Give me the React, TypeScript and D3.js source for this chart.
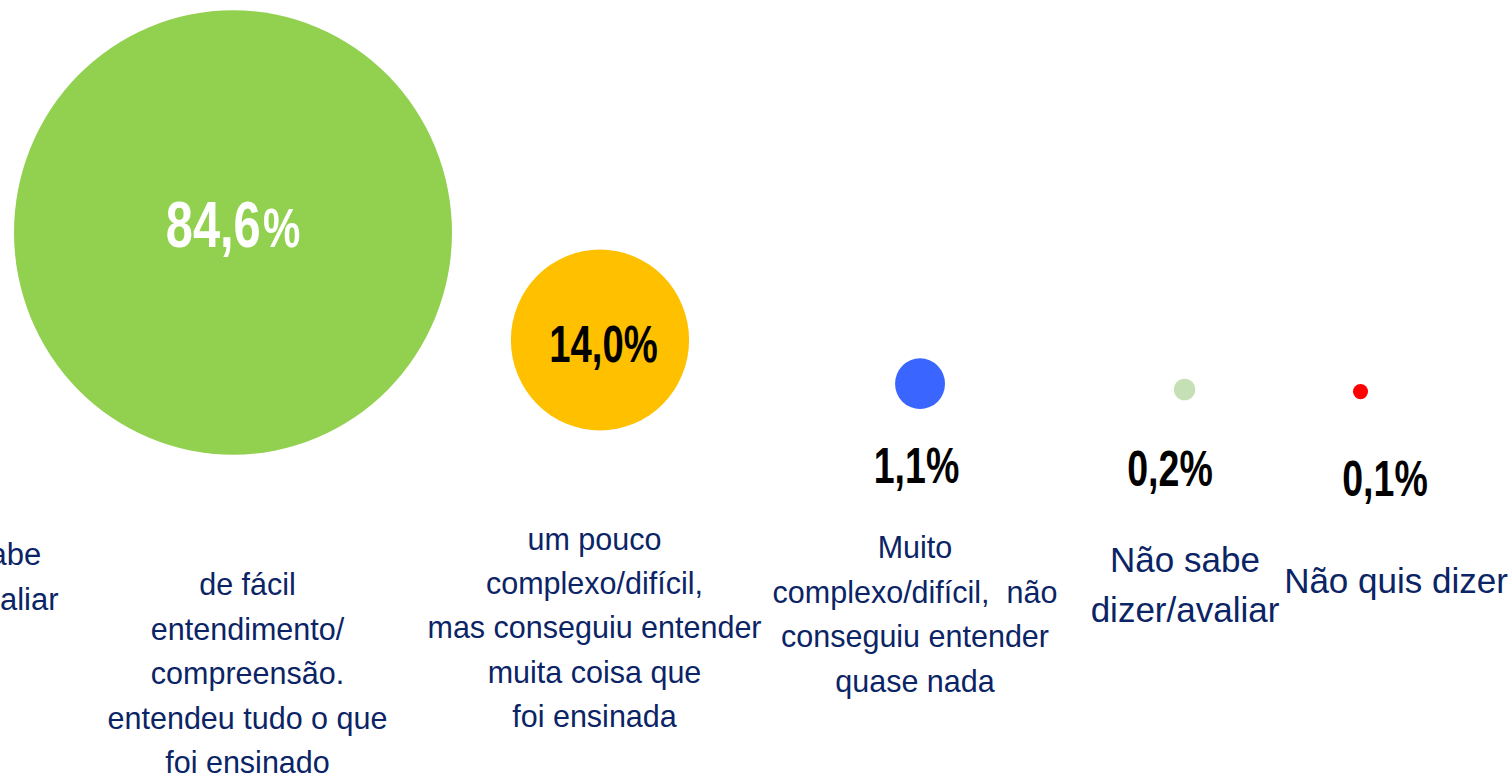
import React from "react";
import * as d3 from "d3";

// ---- data ----
const categories = [
  "de fácil entendimento/ compreensão. entendeu tudo o que foi ensinado",
  "um pouco complexo/difícil, mas conseguiu entender muita coisa que foi ensinada",
  "Muito complexo/difícil,  não conseguiu entender quase nada",
  "Não sabe dizer/avaliar",
  "Não quis dizer",
];
const categoryLines = [
  ["de fácil", "entendimento/", "compreensão.", "entendeu tudo o que", "foi ensinado"],
  ["um pouco", "complexo/difícil,", "mas conseguiu entender", "muita coisa que", "foi ensinada"],
  ["Muito", "complexo/difícil,  não", "conseguiu entender", "quase nada"],
  ["Não sabe", "dizer/avaliar"],
  ["Não quis dizer"],
];
const values = [84.6, 14.0, 1.1, 0.2, 0.1];
// bubble positions in chart units (0-100)
const bubbleX = [15.44, 39.76, 60.97, 78.5, 90.16];
const bubbleY = [70.0, 56.13, 50.49, 49.74, 49.48];
// cropped label of a neighbouring slide element (only partly visible)
const croppedLines = ["Não sabe", "dizer/avaliar"];

// ---- layout / style ----
const W = 1509;
const H = 775;
const palette = ["#92D050", "#FFC000", "#3A66FF", "#C5E0B4", "#FF0000"];
const valueColor = ["#FFFFFF", "#000000", "#000000", "#000000", "#000000"];
const NAVY = "#0B2465";
const FONT = "'Liberation Sans', Arial, sans-serif";

const labelLayout = [
  { x: 247.5, y0: 595, dy: 44.5, size: 30.5 },
  { x: 594.5, y0: 550, dy: 44.2, size: 30.5 },
  { x: 915, y0: 558, dy: 44.5, size: 30.5 },
  { x: 1185, y0: 571.7, dy: 50, size: 35 },
  { x: 1396, y0: 593, dy: 50, size: 35 },
];
const valueLayout = [
  { x: 233, y: 246.7, size: 65, pctSize: 56, gap: 3 },
  { x: 603.5, y: 361.7, size: 51, pctSize: 51, gap: 0 },
  { x: 916.5, y: 483, size: 50, pctSize: 50, gap: 0 },
  { x: 1170, y: 485.5, size: 50, pctSize: 50, gap: 0 },
  { x: 1385, y: 496, size: 50, pctSize: 50, gap: 0 },
];

const locale = d3.formatLocale({
  decimal: ",",
  thousands: ".",
  grouping: [3],
  currency: ["", ""],
});
const fmt = locale.format(".1f");

export default function App() {
  const xScale = d3.scaleLinear().domain([0, 100]).range([0, W]);
  const yScale = d3.scaleLinear().domain([0, 100]).range([H, 0]);
  const rScale = d3.scaleSqrt().domain([0, d3.max(values) as number]).range([0, 219]);

  return (
    <svg
      width={W}
      height={H}
      style={{ position: "absolute", left: 0, top: 0, background: "#fff" }}
      fontFamily={FONT}
    >
      {values.map((v, i) => {
        const r = rScale(v);
        return (
          <ellipse
            key={"b" + i}
            cx={xScale(bubbleX[i])}
            cy={yScale(bubbleY[i])}
            rx={r}
            ry={r * 1.015}
            fill={palette[i]}
          />
        );
      })}

      {values.map((v, i) => {
        const L = valueLayout[i];
        return (
          <g key={"v" + i} transform={`translate(${L.x},${L.y}) scale(0.75,1)`}>
            <text
              x={0}
              y={0}
              textAnchor="middle"
              fontWeight="bold"
              fill={valueColor[i]}
              fontSize={L.size}
            >
              <tspan>{fmt(v)}</tspan>
              <tspan fontSize={L.pctSize} dx={L.gap}>%</tspan>
            </text>
          </g>
        );
      })}

      {categoryLines.map((lines, i) => {
        const L = labelLayout[i];
        return (
          <text
            key={"c" + i}
            textAnchor="middle"
            fill={NAVY}
            fontSize={L.size}
            style={{ whiteSpace: "pre" }}
          >
            <title>{categories[i]}</title>
            {lines.map((ln, j) => (
              <tspan key={j} x={L.x} y={L.y0 + j * L.dy}>
                {ln}
              </tspan>
            ))}
          </text>
        );
      })}

      <text textAnchor="middle" fill={NAVY} fontSize={31}>
        {croppedLines.map((ln, j) => (
          <tspan key={j} x={-25} y={565 + j * 45}>
            {ln}
          </tspan>
        ))}
      </text>
    </svg>
  );
}
